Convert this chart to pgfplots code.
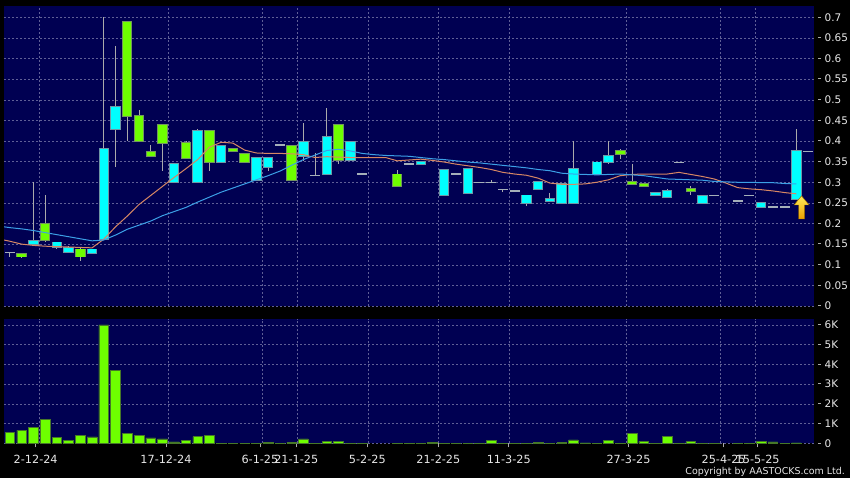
\documentclass[border=0pt]{standalone}
\usepackage{fontspec}
\setmainfont{DejaVu Sans}
\usepackage{pgfplots}
\usepackage{pgfplotstable}
\pgfplotsset{compat=1.18}

\definecolor{navy}{RGB}{0,0,82}
\definecolor{gridc}{RGB}{95,95,150}
\definecolor{cyanb}{RGB}{0,255,255}
\definecolor{cyanedge}{RGB}{110,150,165}
\definecolor{greenb}{RGB}{110,255,0}
\definecolor{greenedge}{RGB}{115,150,95}
\definecolor{wick}{RGB}{170,170,170}
\definecolor{dojic}{RGB}{165,175,185}
\definecolor{maor}{RGB}{215,135,100}
\definecolor{mabl}{RGB}{60,160,230}
\definecolor{volg}{RGB}{110,255,0}
\definecolor{voledge}{RGB}{70,120,40}
\definecolor{labc}{RGB}{232,232,232}
\definecolor{tickc}{RGB}{170,170,170}

\newcommand{\tk}[1]{\textcolor{tickc}{\rule[0.36em]{3bp}{0.8bp}}\hspace{3.5bp}#1}

% up candles (cyan): index open high low close
\pgfplotstableread{
i o h l c
2 0.150 0.300 0.150 0.157
4 0.143 0.154 0.137 0.154
5 0.130 0.145 0.130 0.140
7 0.128 0.137 0.128 0.137
8 0.162 0.700 0.160 0.380
9 0.430 0.630 0.338 0.483
14 0.300 0.344 0.300 0.344
16 0.300 0.430 0.300 0.424
18 0.350 0.389 0.350 0.389
21 0.305 0.358 0.305 0.358
22 0.338 0.358 0.328 0.358
25 0.364 0.443 0.352 0.398
27 0.319 0.480 0.319 0.409
29 0.354 0.398 0.354 0.398
35 0.344 0.350 0.344 0.350
37 0.268 0.329 0.268 0.329
39 0.273 0.333 0.273 0.333
44 0.249 0.268 0.243 0.268
45 0.283 0.300 0.283 0.300
46 0.255 0.273 0.255 0.259
47 0.249 0.296 0.249 0.296
48 0.249 0.400 0.249 0.333
50 0.319 0.348 0.319 0.348
51 0.348 0.400 0.344 0.363
55 0.268 0.273 0.268 0.273
56 0.264 0.284 0.264 0.279
59 0.249 0.267 0.249 0.267
64 0.240 0.249 0.240 0.249
67 0.259 0.430 0.259 0.376
}\upc

% down candles (green)
\pgfplotstableread{
i o h l c
1 0.127 0.127 0.117 0.120
3 0.200 0.270 0.155 0.160
6 0.137 0.140 0.110 0.120
10 0.688 0.690 0.400 0.460
11 0.460 0.475 0.400 0.400
12 0.374 0.390 0.363 0.363
13 0.438 0.440 0.328 0.395
15 0.395 0.400 0.358 0.358
17 0.424 0.424 0.328 0.350
19 0.380 0.380 0.374 0.375
20 0.368 0.368 0.349 0.350
24 0.389 0.389 0.305 0.305
28 0.439 0.439 0.344 0.354
33 0.319 0.330 0.291 0.291
52 0.375 0.381 0.357 0.368
53 0.300 0.345 0.296 0.296
54 0.295 0.295 0.290 0.290
58 0.283 0.291 0.268 0.279
}\dnc

% unchanged days (doji)
\pgfplotstableread{
i v h l
0 0.130 0.130 0.120
23 0.390 0.390 0.390
26 0.317 0.370 0.317
30 0.320 0.320 0.320
34 0.344 0.344 0.344
38 0.320 0.320 0.320
40 0.300 0.300 0.300
41 0.300 0.306 0.300
42 0.283 0.283 0.277
43 0.279 0.279 0.279
57 0.348 0.348 0.348
60 0.268 0.268 0.268
62 0.255 0.255 0.255
63 0.268 0.268 0.268
65 0.240 0.240 0.240
66 0.240 0.240 0.240
68 0.375 0.375 0.375
}\doji

% moving averages
\pgfplotstableread{
i ma ms
-0.5 0.160 0.192
0 0.157 0.190
1 0.150 0.187
2 0.147 0.183
3 0.145 0.178
4 0.144 0.173
5 0.143 0.168
6 0.142 0.163
7 0.141 0.158
8 0.162 0.160
9 0.192 0.172
10 0.218 0.186
11 0.246 0.196
12 0.268 0.206
13 0.290 0.219
14 0.312 0.229
15 0.333 0.239
16 0.355 0.252
17 0.385 0.264
18 0.397 0.276
19 0.395 0.286
20 0.378 0.296
21 0.371 0.306
22 0.370 0.316
23 0.370 0.327
24 0.369 0.341
25 0.367 0.355
26 0.360 0.366
27 0.362 0.377
28 0.361 0.380
29 0.360 0.376
30 0.360 0.370
31 0.360 0.367
32 0.360 0.365
33 0.352 0.364
34 0.354 0.363
35 0.356 0.360
36 0.353 0.357
37 0.349 0.355
38 0.344 0.352
39 0.340 0.349
40 0.336 0.347
41 0.331 0.344
42 0.324 0.341
43 0.320 0.338
44 0.317 0.335
45 0.310 0.331
46 0.298 0.328
47 0.295 0.322
48 0.295 0.320
49 0.296 0.319
50 0.300 0.318
51 0.306 0.319
52 0.316 0.320
53 0.319 0.318
54 0.320 0.316
55 0.320 0.312
56 0.320 0.308
57 0.324 0.307
58 0.319 0.306
59 0.314 0.305
60 0.308 0.302
61 0.298 0.301
62 0.287 0.300
63 0.284 0.300
64 0.282 0.299
65 0.279 0.299
66 0.275 0.297
67 0.272 0.296
}\mavg

% volume in thousands
\pgfplotstableread{
i v
0 0.54
1 0.67
2 0.81
3 1.23
4 0.30
5 0.13
6 0.39
7 0.32
8 6.00
9 3.70
10 0.51
11 0.39
12 0.27
13 0.22
14 0.07
15 0.15
16 0.34
17 0.39
18 0.01
19 0.01
20 0.01
21 0.01
22 0.05
23 0.01
24 0.03
25 0.22
26 0.01
27 0.10
28 0.10
29 0.01
30 0.01
33 0.01
34 0.01
35 0.01
36 0.04
37 0.01
38 0.01
39 0.01
40 0.01
41 0.15
42 0.01
43 0.01
44 0.01
45 0.06
46 0.01
47 0.04
48 0.17
49 0.02
50 0.01
51 0.13
52 0.01
53 0.51
54 0.10
55 0.01
56 0.37
57 0.01
58 0.08
59 0.01
60 0.01
62 0.01
63 0.01
64 0.10
65 0.07
66 0.01
67 0.02
}\vol

\pgfplotsset{
  panel/.style={
    scale only axis, width=810bp,
    xmin=-0.5, xmax=68.5,
    axis background/.style={fill=navy},
    axis line style={draw=none},
    xtick={2.5,13.5,21.5,24.5,30.5,36.5,42.5,52.5,60.5,63.5},
    xmajorgrids, ymajorgrids,
    grid style={draw=gridc, line width=0.5bp, dash pattern=on 2bp off 2bp},
    major tick length=0pt,
    yticklabel pos=right,
    yticklabel style={anchor=west, inner sep=0pt, xshift=4bp, text=labc,
      font=\fontsize{10.5}{12}\selectfont},
    /pgf/number format/assume math mode=true,
  },
  bodyup/.style={draw=none, mark=none, error bars/.cd, y dir=both, y explicit,
    error mark=none},
}

\begin{document}
\begin{tikzpicture}
\useasboundingbox (0,0) rectangle (850bp,478bp);
\fill[black] (0,0) rectangle (850bp,478bp);

% price panel
\begin{axis}[panel, at={(4bp,172bp)}, anchor=south west, height=300bp,
  ymin=0, ymax=0.7274,
  xticklabels={},
  ytick={0,0.05,0.1,0.15,0.2,0.25,0.3,0.35,0.4,0.45,0.5,0.55,0.6,0.65,0.7},
  yticklabels={\tk{0},\tk{0.05},\tk{0.1},\tk{0.15},\tk{0.2},\tk{0.25},\tk{0.3},\tk{0.35},\tk{0.4},\tk{0.45},\tk{0.5},\tk{0.55},\tk{0.6},\tk{0.65},\tk{0.7}},
]
% wicks
\addplot[bodyup, error bar style={line width=0.9bp, draw=wick}]
  table[x=i, y expr=(\thisrow{h}+\thisrow{l})/2, y error expr=(\thisrow{h}-\thisrow{l})/2] {\upc};
\addplot[bodyup, error bar style={line width=0.9bp, draw=wick}]
  table[x=i, y expr=(\thisrow{h}+\thisrow{l})/2, y error expr=(\thisrow{h}-\thisrow{l})/2] {\dnc};
\addplot[bodyup, error bar style={line width=0.9bp, draw=wick}]
  table[x=i, y expr=(\thisrow{h}+\thisrow{l})/2, y error expr=(\thisrow{h}-\thisrow{l})/2] {\doji};
% doji dashes
\addplot[draw=none, mark=none, error bars/.cd, x dir=both, x fixed=0.43, error mark=none,
  error bar style={line width=1.4bp, draw=dojic}]
  table[x=i, y=v] {\doji};
% up bodies
\addplot[bodyup, error bar style={line width=10.4bp, draw=cyanedge}]
  table[x=i, y expr=(\thisrow{o}+\thisrow{c})/2, y error expr=abs(\thisrow{c}-\thisrow{o})/2+0.0022] {\upc};
\addplot[bodyup, error bar style={line width=8.4bp, draw=cyanb}]
  table[x=i, y expr=(\thisrow{o}+\thisrow{c})/2, y error expr=abs(\thisrow{c}-\thisrow{o})/2] {\upc};
% down bodies
\addplot[bodyup, error bar style={line width=10.4bp, draw=greenedge}]
  table[x=i, y expr=(\thisrow{o}+\thisrow{c})/2, y error expr=abs(\thisrow{c}-\thisrow{o})/2+0.0022] {\dnc};
\addplot[bodyup, error bar style={line width=8.4bp, draw=greenb}]
  table[x=i, y expr=(\thisrow{o}+\thisrow{c})/2, y error expr=abs(\thisrow{c}-\thisrow{o})/2] {\dnc};
% moving averages
\addplot[maor, line width=1bp, mark=none] table[x=i, y=ma] {\mavg};
\addplot[mabl, line width=1bp, mark=none] table[x=i, y=ms] {\mavg};
% marker arrow
\fill[top color={rgb,255:red,255;green,235;blue,90}, bottom color={rgb,255:red,235;green,160;blue,0},
  draw={rgb,255:red,150;green,100;blue,0}, line width=0.4bp]
  (axis cs:67.44,0.267) -- (axis cs:68.08,0.245) -- (axis cs:67.70,0.245) -- (axis cs:67.70,0.211)
  -- (axis cs:67.18,0.211) -- (axis cs:67.18,0.245) -- (axis cs:66.80,0.245) -- cycle;
\end{axis}

% volume panel
\begin{axis}[panel, at={(4bp,34.7bp)}, anchor=south west, height=124.3bp,
  ymin=0, ymax=6.303,
  xticklabels={},
  xtick pos=left,
  extra x ticks={2.2,13.3,21.3,24.4,30.45,36.5,42.5,52.7,60.8,63.7},
  extra x tick labels={2-12-24,17-12-24,6-1-25,21-1-25,5-2-25,21-2-25,11-3-25,27-3-25,25-4-25,15-5-25},
  extra x tick style={grid=none, major tick length=4bp, tick align=outside,
    tick style={draw=tickc, line width=0.8bp},
    xticklabel style={text=labc, font=\fontsize{11.3}{13}\selectfont, anchor=north, inner sep=0pt, yshift=-7.5bp}},
  ytick={0,1,2,3,4,5,6},
  yticklabels={\tk{0},\tk{1K},\tk{2K},\tk{3K},\tk{4K},\tk{5K},\tk{6K}},
]
\addplot[ybar, bar width=9.6bp, fill=volg, draw=voledge, line width=0.6bp] table[x=i, y=v] {\vol};
\end{axis}

\node[anchor=east, text=labc, font=\fontsize{9.5}{11}\selectfont, inner sep=0pt] at (845bp,6.5bp) {Copyright by AASTOCKS.com Ltd.};
\end{tikzpicture}
\end{document}
